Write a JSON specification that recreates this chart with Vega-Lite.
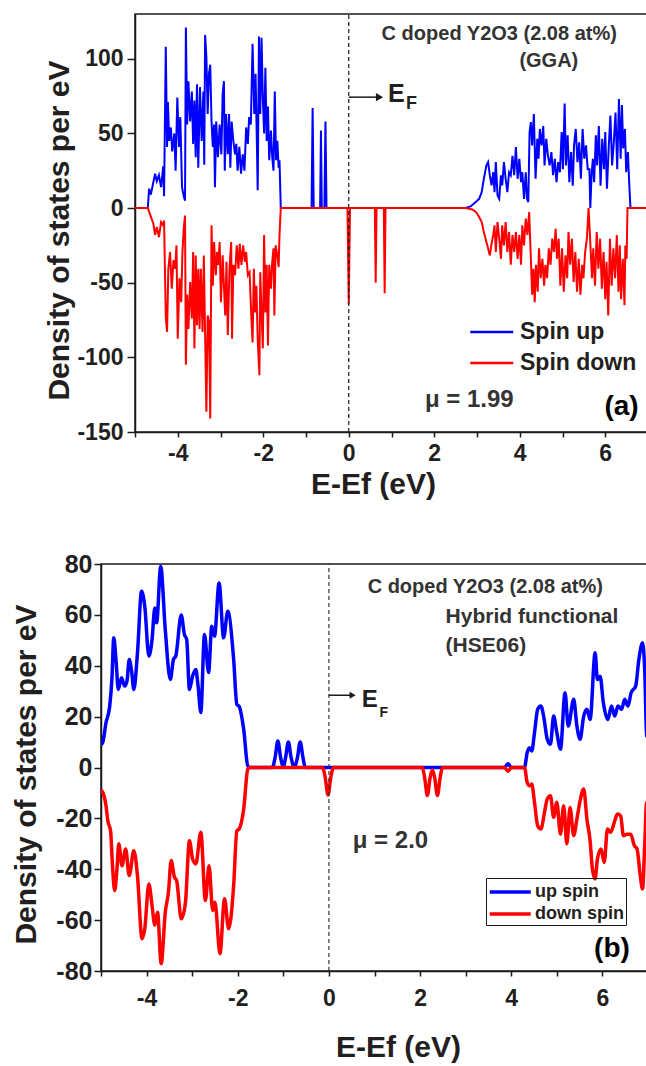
{
"$schema": "https://vega.github.io/schema/vega-lite/v6.json",
"autosize": {"type": "pad"},
"padding": {"left": 10, "top": 12, "right": 0, "bottom": 0},
"background": "white",
"config": {
  "font": "Liberation Sans",
  "view": {"stroke": null},
  "axis": {"domainColor": "#1a1a1a", "domainWidth": 1.5, "tickColor": "#1a1a1a", "tickWidth": 1.5, "labelColor": "#231f20", "labelFont": "Liberation Sans", "labelFontWeight": "bold", "titleFont": "Liberation Sans", "titleFontWeight": "bold", "titleColor": "#231f20", "titleFontSize": 30, "grid": false},
  "legend": {"labelFont": "Liberation Sans", "labelFontWeight": "bold", "labelColor": "#231f20"},
  "text": {"font": "Liberation Sans", "fontWeight": "bold", "color": "#333333"}
},
"datasets": {
"gga": [
{"E":-5,"D":0,"s":"Spin up"},{"E":-4.7,"D":0,"s":"Spin up"},{"E":-4.67,"D":13,"s":"Spin up"},{"E":-4.63,"D":9,"s":"Spin up"},{"E":-4.53,"D":23,"s":"Spin up"},{"E":-4.49,"D":18,"s":"Spin up"},{"E":-4.44,"D":22,"s":"Spin up"},{"E":-4.39,"D":14,"s":"Spin up"},{"E":-4.34,"D":28,"s":"Spin up"},{"E":-4.32,"D":8,"s":"Spin up"},{"E":-4.28,"D":108,"s":"Spin up"},{"E":-4.25,"D":41,"s":"Spin up"},{"E":-4.23,"D":71,"s":"Spin up"},{"E":-4.2,"D":45,"s":"Spin up"},{"E":-4.16,"D":54,"s":"Spin up"},{"E":-4.13,"D":38,"s":"Spin up"},{"E":-4.08,"D":50,"s":"Spin up"},{"E":-4.05,"D":25,"s":"Spin up"},{"E":-4.01,"D":74,"s":"Spin up"},{"E":-3.97,"D":41,"s":"Spin up"},{"E":-3.94,"D":61,"s":"Spin up"},{"E":-3.9,"D":14,"s":"Spin up"},{"E":-3.86,"D":8,"s":"Spin up"},{"E":-3.83,"D":5,"s":"Spin up"},{"E":-3.81,"D":121,"s":"Spin up"},{"E":-3.78,"D":56,"s":"Spin up"},{"E":-3.75,"D":85,"s":"Spin up"},{"E":-3.71,"D":58,"s":"Spin up"},{"E":-3.67,"D":78,"s":"Spin up"},{"E":-3.64,"D":43,"s":"Spin up"},{"E":-3.61,"D":72,"s":"Spin up"},{"E":-3.58,"D":34,"s":"Spin up"},{"E":-3.55,"D":83,"s":"Spin up"},{"E":-3.52,"D":27,"s":"Spin up"},{"E":-3.48,"D":81,"s":"Spin up"},{"E":-3.44,"D":45,"s":"Spin up"},{"E":-3.4,"D":78,"s":"Spin up"},{"E":-3.38,"D":29,"s":"Spin up"},{"E":-3.36,"D":116,"s":"Spin up"},{"E":-3.33,"D":101,"s":"Spin up"},{"E":-3.3,"D":63,"s":"Spin up"},{"E":-3.27,"D":90,"s":"Spin up"},{"E":-3.24,"D":96,"s":"Spin up"},{"E":-3.21,"D":58,"s":"Spin up"},{"E":-3.18,"D":41,"s":"Spin up"},{"E":-3.15,"D":56,"s":"Spin up"},{"E":-3.13,"D":14,"s":"Spin up"},{"E":-3.1,"D":58,"s":"Spin up"},{"E":-3.06,"D":34,"s":"Spin up"},{"E":-3.02,"D":56,"s":"Spin up"},{"E":-2.98,"D":36,"s":"Spin up"},{"E":-2.95,"D":76,"s":"Spin up"},{"E":-2.92,"D":85,"s":"Spin up"},{"E":-2.9,"D":25,"s":"Spin up"},{"E":-2.87,"D":63,"s":"Spin up"},{"E":-2.83,"D":36,"s":"Spin up"},{"E":-2.8,"D":63,"s":"Spin up"},{"E":-2.77,"D":27,"s":"Spin up"},{"E":-2.74,"D":58,"s":"Spin up"},{"E":-2.7,"D":45,"s":"Spin up"},{"E":-2.66,"D":36,"s":"Spin up"},{"E":-2.63,"D":43,"s":"Spin up"},{"E":-2.6,"D":25,"s":"Spin up"},{"E":-2.56,"D":41,"s":"Spin up"},{"E":-2.52,"D":23,"s":"Spin up"},{"E":-2.48,"D":36,"s":"Spin up"},{"E":-2.44,"D":25,"s":"Spin up"},{"E":-2.4,"D":54,"s":"Spin up"},{"E":-2.36,"D":43,"s":"Spin up"},{"E":-2.33,"D":61,"s":"Spin up"},{"E":-2.29,"D":56,"s":"Spin up"},{"E":-2.25,"D":110,"s":"Spin up"},{"E":-2.21,"D":63,"s":"Spin up"},{"E":-2.18,"D":90,"s":"Spin up"},{"E":-2.15,"D":45,"s":"Spin up"},{"E":-2.13,"D":12,"s":"Spin up"},{"E":-2.1,"D":115,"s":"Spin up"},{"E":-2.07,"D":63,"s":"Spin up"},{"E":-2.04,"D":114,"s":"Spin up"},{"E":-2.01,"D":74,"s":"Spin up"},{"E":-1.98,"D":50,"s":"Spin up"},{"E":-1.95,"D":94,"s":"Spin up"},{"E":-1.92,"D":45,"s":"Spin up"},{"E":-1.89,"D":68,"s":"Spin up"},{"E":-1.86,"D":32,"s":"Spin up"},{"E":-1.82,"D":52,"s":"Spin up"},{"E":-1.79,"D":34,"s":"Spin up"},{"E":-1.76,"D":25,"s":"Spin up"},{"E":-1.73,"D":78,"s":"Spin up"},{"E":-1.7,"D":32,"s":"Spin up"},{"E":-1.67,"D":45,"s":"Spin up"},{"E":-1.64,"D":27,"s":"Spin up"},{"E":-1.62,"D":32,"s":"Spin up"},{"E":-1.59,"D":0,"s":"Spin up"},{"E":-0.87,"D":0,"s":"Spin up"},{"E":-0.845,"D":67,"s":"Spin up"},{"E":-0.82,"D":0,"s":"Spin up"},{"E":-0.67,"D":0,"s":"Spin up"},{"E":-0.65,"D":52,"s":"Spin up"},{"E":-0.63,"D":0,"s":"Spin up"},{"E":-0.57,"D":0,"s":"Spin up"},{"E":-0.545,"D":58,"s":"Spin up"},{"E":-0.52,"D":0,"s":"Spin up"},{"E":2.73,"D":0,"s":"Spin up"},{"E":2.85,"D":1.1,"s":"Spin up"},{"E":2.97,"D":4,"s":"Spin up"},{"E":3.05,"D":6.2,"s":"Spin up"},{"E":3.11,"D":10.7,"s":"Spin up"},{"E":3.16,"D":19.6,"s":"Spin up"},{"E":3.22,"D":28.6,"s":"Spin up"},{"E":3.26,"D":30.8,"s":"Spin up"},{"E":3.3,"D":21.9,"s":"Spin up"},{"E":3.34,"D":15.2,"s":"Spin up"},{"E":3.38,"D":24,"s":"Spin up"},{"E":3.41,"D":10.7,"s":"Spin up"},{"E":3.44,"D":30.8,"s":"Spin up"},{"E":3.48,"D":8.5,"s":"Spin up"},{"E":3.52,"D":6.2,"s":"Spin up"},{"E":3.56,"D":21.9,"s":"Spin up"},{"E":3.59,"D":15.2,"s":"Spin up"},{"E":3.63,"D":30.8,"s":"Spin up"},{"E":3.67,"D":19.6,"s":"Spin up"},{"E":3.71,"D":10.7,"s":"Spin up"},{"E":3.75,"D":24,"s":"Spin up"},{"E":3.79,"D":22,"s":"Spin up"},{"E":3.83,"D":35,"s":"Spin up"},{"E":3.87,"D":22,"s":"Spin up"},{"E":3.91,"D":40.8,"s":"Spin up"},{"E":3.95,"D":19.6,"s":"Spin up"},{"E":3.99,"D":33,"s":"Spin up"},{"E":4.03,"D":17.4,"s":"Spin up"},{"E":4.06,"D":24,"s":"Spin up"},{"E":4.1,"D":6.2,"s":"Spin up"},{"E":4.14,"D":24,"s":"Spin up"},{"E":4.17,"D":6.2,"s":"Spin up"},{"E":4.2,"D":4,"s":"Spin up"},{"E":4.23,"D":50.9,"s":"Spin up"},{"E":4.26,"D":57.6,"s":"Spin up"},{"E":4.29,"D":42,"s":"Spin up"},{"E":4.33,"D":63,"s":"Spin up"},{"E":4.37,"D":19.6,"s":"Spin up"},{"E":4.41,"D":46.4,"s":"Spin up"},{"E":4.44,"D":33,"s":"Spin up"},{"E":4.47,"D":53,"s":"Spin up"},{"E":4.51,"D":42,"s":"Spin up"},{"E":4.55,"D":55,"s":"Spin up"},{"E":4.58,"D":28.6,"s":"Spin up"},{"E":4.62,"D":46.4,"s":"Spin up"},{"E":4.66,"D":35,"s":"Spin up"},{"E":4.7,"D":28.6,"s":"Spin up"},{"E":4.74,"D":37.5,"s":"Spin up"},{"E":4.78,"D":22,"s":"Spin up"},{"E":4.82,"D":33,"s":"Spin up"},{"E":4.86,"D":17.4,"s":"Spin up"},{"E":4.9,"D":30.8,"s":"Spin up"},{"E":4.94,"D":24,"s":"Spin up"},{"E":4.98,"D":51,"s":"Spin up"},{"E":5.01,"D":26,"s":"Spin up"},{"E":5.05,"D":70,"s":"Spin up"},{"E":5.08,"D":28.6,"s":"Spin up"},{"E":5.12,"D":48.7,"s":"Spin up"},{"E":5.16,"D":17.4,"s":"Spin up"},{"E":5.2,"D":37.5,"s":"Spin up"},{"E":5.24,"D":15,"s":"Spin up"},{"E":5.27,"D":42,"s":"Spin up"},{"E":5.31,"D":53,"s":"Spin up"},{"E":5.35,"D":30.8,"s":"Spin up"},{"E":5.39,"D":44,"s":"Spin up"},{"E":5.43,"D":19.6,"s":"Spin up"},{"E":5.47,"D":53,"s":"Spin up"},{"E":5.51,"D":33,"s":"Spin up"},{"E":5.55,"D":42,"s":"Spin up"},{"E":5.59,"D":26,"s":"Spin up"},{"E":5.63,"D":26,"s":"Spin up"},{"E":5.65,"D":0,"s":"Spin up"},{"E":5.68,"D":22,"s":"Spin up"},{"E":5.71,"D":33,"s":"Spin up"},{"E":5.74,"D":17.4,"s":"Spin up"},{"E":5.78,"D":48.7,"s":"Spin up"},{"E":5.81,"D":28.6,"s":"Spin up"},{"E":5.85,"D":55,"s":"Spin up"},{"E":5.89,"D":15,"s":"Spin up"},{"E":5.93,"D":46.4,"s":"Spin up"},{"E":5.97,"D":26,"s":"Spin up"},{"E":6,"D":51,"s":"Spin up"},{"E":6.04,"D":13,"s":"Spin up"},{"E":6.08,"D":40,"s":"Spin up"},{"E":6.12,"D":62,"s":"Spin up"},{"E":6.16,"D":28.6,"s":"Spin up"},{"E":6.2,"D":44,"s":"Spin up"},{"E":6.24,"D":64,"s":"Spin up"},{"E":6.28,"D":26,"s":"Spin up"},{"E":6.32,"D":73,"s":"Spin up"},{"E":6.36,"D":33,"s":"Spin up"},{"E":6.39,"D":69,"s":"Spin up"},{"E":6.42,"D":40,"s":"Spin up"},{"E":6.46,"D":53,"s":"Spin up"},{"E":6.49,"D":24,"s":"Spin up"},{"E":6.53,"D":37.5,"s":"Spin up"},{"E":6.56,"D":17,"s":"Spin up"},{"E":6.59,"D":0,"s":"Spin up"},{"E":7,"D":0,"s":"Spin up"},
{"E":-5,"D":0,"s":"Spin down"},{"E":-4.7,"D":0,"s":"Spin down"},{"E":-4.57,"D":-10.5,"s":"Spin down"},{"E":-4.53,"D":-18,"s":"Spin down"},{"E":-4.49,"D":-12.7,"s":"Spin down"},{"E":-4.44,"D":-19.4,"s":"Spin down"},{"E":-4.39,"D":-9.4,"s":"Spin down"},{"E":-4.34,"D":-11.6,"s":"Spin down"},{"E":-4.32,"D":-8.3,"s":"Spin down"},{"E":-4.28,"D":-73,"s":"Spin down"},{"E":-4.25,"D":-83,"s":"Spin down"},{"E":-4.22,"D":-40.6,"s":"Spin down"},{"E":-4.18,"D":-29.4,"s":"Spin down"},{"E":-4.14,"D":-54,"s":"Spin down"},{"E":-4.1,"D":-35,"s":"Spin down"},{"E":-4.06,"D":-40.6,"s":"Spin down"},{"E":-4.03,"D":-25,"s":"Spin down"},{"E":-4,"D":-87.5,"s":"Spin down"},{"E":-3.96,"D":-47,"s":"Spin down"},{"E":-3.92,"D":-63,"s":"Spin down"},{"E":-3.89,"D":-29.4,"s":"Spin down"},{"E":-3.86,"D":-13.8,"s":"Spin down"},{"E":-3.83,"D":-5,"s":"Spin down"},{"E":-3.81,"D":-105,"s":"Spin down"},{"E":-3.78,"D":-58,"s":"Spin down"},{"E":-3.75,"D":-81,"s":"Spin down"},{"E":-3.71,"D":-49.5,"s":"Spin down"},{"E":-3.67,"D":-74,"s":"Spin down"},{"E":-3.64,"D":-29.4,"s":"Spin down"},{"E":-3.61,"D":-94,"s":"Spin down"},{"E":-3.58,"D":-31.7,"s":"Spin down"},{"E":-3.55,"D":-78.5,"s":"Spin down"},{"E":-3.52,"D":-40.6,"s":"Spin down"},{"E":-3.49,"D":-81,"s":"Spin down"},{"E":-3.46,"D":-40.6,"s":"Spin down"},{"E":-3.42,"D":-83,"s":"Spin down"},{"E":-3.39,"D":-31.7,"s":"Spin down"},{"E":-3.36,"D":-85,"s":"Spin down"},{"E":-3.33,"D":-136.5,"s":"Spin down"},{"E":-3.3,"D":-72,"s":"Spin down"},{"E":-3.27,"D":-76,"s":"Spin down"},{"E":-3.24,"D":-141,"s":"Spin down"},{"E":-3.21,"D":-11.6,"s":"Spin down"},{"E":-3.18,"D":-52,"s":"Spin down"},{"E":-3.15,"D":-22.8,"s":"Spin down"},{"E":-3.11,"D":-45,"s":"Spin down"},{"E":-3.08,"D":-29.4,"s":"Spin down"},{"E":-3.05,"D":-38,"s":"Spin down"},{"E":-3.02,"D":-22.8,"s":"Spin down"},{"E":-2.99,"D":-63,"s":"Spin down"},{"E":-2.95,"D":-31.7,"s":"Spin down"},{"E":-2.92,"D":-52,"s":"Spin down"},{"E":-2.89,"D":-72,"s":"Spin down"},{"E":-2.86,"D":-36,"s":"Spin down"},{"E":-2.83,"D":-85,"s":"Spin down"},{"E":-2.79,"D":-40.6,"s":"Spin down"},{"E":-2.75,"D":-22.8,"s":"Spin down"},{"E":-2.73,"D":-87.5,"s":"Spin down"},{"E":-2.7,"D":-38,"s":"Spin down"},{"E":-2.66,"D":-45,"s":"Spin down"},{"E":-2.62,"D":-25,"s":"Spin down"},{"E":-2.58,"D":-40.6,"s":"Spin down"},{"E":-2.55,"D":-24,"s":"Spin down"},{"E":-2.51,"D":-38,"s":"Spin down"},{"E":-2.47,"D":-25,"s":"Spin down"},{"E":-2.43,"D":-36,"s":"Spin down"},{"E":-2.4,"D":-29.4,"s":"Spin down"},{"E":-2.36,"D":-45,"s":"Spin down"},{"E":-2.32,"D":-43,"s":"Spin down"},{"E":-2.28,"D":-72,"s":"Spin down"},{"E":-2.25,"D":-90,"s":"Spin down"},{"E":-2.22,"D":-40.6,"s":"Spin down"},{"E":-2.19,"D":-70,"s":"Spin down"},{"E":-2.16,"D":-52,"s":"Spin down"},{"E":-2.13,"D":-87.5,"s":"Spin down"},{"E":-2.09,"D":-112,"s":"Spin down"},{"E":-2.07,"D":-43,"s":"Spin down"},{"E":-2.04,"D":-70,"s":"Spin down"},{"E":-2.01,"D":-94,"s":"Spin down"},{"E":-1.98,"D":-18,"s":"Spin down"},{"E":-1.95,"D":-70,"s":"Spin down"},{"E":-1.92,"D":-38,"s":"Spin down"},{"E":-1.89,"D":-92,"s":"Spin down"},{"E":-1.86,"D":-38,"s":"Spin down"},{"E":-1.82,"D":-54,"s":"Spin down"},{"E":-1.79,"D":-36,"s":"Spin down"},{"E":-1.76,"D":-27,"s":"Spin down"},{"E":-1.74,"D":-72,"s":"Spin down"},{"E":-1.71,"D":-25,"s":"Spin down"},{"E":-1.67,"D":-31.7,"s":"Spin down"},{"E":-1.64,"D":-39.5,"s":"Spin down"},{"E":-1.62,"D":-18,"s":"Spin down"},{"E":-1.59,"D":0,"s":"Spin down"},{"E":-0.03,"D":0,"s":"Spin down"},{"E":0,"D":-64,"s":"Spin down"},{"E":0.03,"D":0,"s":"Spin down"},{"E":0.61,"D":0,"s":"Spin down"},{"E":0.63,"D":-50,"s":"Spin down"},{"E":0.65,"D":0,"s":"Spin down"},{"E":0.82,"D":0,"s":"Spin down"},{"E":0.84,"D":-57,"s":"Spin down"},{"E":0.86,"D":0,"s":"Spin down"},{"E":2.73,"D":0,"s":"Spin down"},{"E":2.89,"D":-0.9,"s":"Spin down"},{"E":2.98,"D":-2.7,"s":"Spin down"},{"E":3.05,"D":-6,"s":"Spin down"},{"E":3.11,"D":-9.4,"s":"Spin down"},{"E":3.16,"D":-16,"s":"Spin down"},{"E":3.22,"D":-22.8,"s":"Spin down"},{"E":3.26,"D":-27,"s":"Spin down"},{"E":3.3,"D":-31.7,"s":"Spin down"},{"E":3.34,"D":-24,"s":"Spin down"},{"E":3.38,"D":-18,"s":"Spin down"},{"E":3.41,"D":-11.6,"s":"Spin down"},{"E":3.44,"D":-29.4,"s":"Spin down"},{"E":3.48,"D":-9.4,"s":"Spin down"},{"E":3.52,"D":-20.5,"s":"Spin down"},{"E":3.56,"D":-34,"s":"Spin down"},{"E":3.59,"D":-11.6,"s":"Spin down"},{"E":3.63,"D":-25,"s":"Spin down"},{"E":3.67,"D":-9.4,"s":"Spin down"},{"E":3.71,"D":-29.4,"s":"Spin down"},{"E":3.75,"D":-16,"s":"Spin down"},{"E":3.79,"D":-38,"s":"Spin down"},{"E":3.83,"D":-18,"s":"Spin down"},{"E":3.87,"D":-29.4,"s":"Spin down"},{"E":3.91,"D":-16,"s":"Spin down"},{"E":3.95,"D":-34,"s":"Spin down"},{"E":3.99,"D":-18,"s":"Spin down"},{"E":4.03,"D":-38,"s":"Spin down"},{"E":4.06,"D":-11.6,"s":"Spin down"},{"E":4.1,"D":-25,"s":"Spin down"},{"E":4.14,"D":-7,"s":"Spin down"},{"E":4.18,"D":-18,"s":"Spin down"},{"E":4.22,"D":-2.7,"s":"Spin down"},{"E":4.26,"D":-34,"s":"Spin down"},{"E":4.29,"D":-58,"s":"Spin down"},{"E":4.32,"D":-40.6,"s":"Spin down"},{"E":4.35,"D":-63,"s":"Spin down"},{"E":4.38,"D":-38,"s":"Spin down"},{"E":4.42,"D":-56,"s":"Spin down"},{"E":4.45,"D":-27,"s":"Spin down"},{"E":4.49,"D":-47,"s":"Spin down"},{"E":4.53,"D":-34,"s":"Spin down"},{"E":4.57,"D":-52,"s":"Spin down"},{"E":4.6,"D":-38,"s":"Spin down"},{"E":4.64,"D":-47,"s":"Spin down"},{"E":4.68,"D":-27,"s":"Spin down"},{"E":4.72,"D":-38,"s":"Spin down"},{"E":4.76,"D":-20.5,"s":"Spin down"},{"E":4.8,"D":-29.4,"s":"Spin down"},{"E":4.84,"D":-13.8,"s":"Spin down"},{"E":4.87,"D":-34,"s":"Spin down"},{"E":4.91,"D":-20.5,"s":"Spin down"},{"E":4.95,"D":-52,"s":"Spin down"},{"E":4.99,"D":-27,"s":"Spin down"},{"E":5.03,"D":-56,"s":"Spin down"},{"E":5.07,"D":-31.7,"s":"Spin down"},{"E":5.11,"D":-47,"s":"Spin down"},{"E":5.14,"D":-16,"s":"Spin down"},{"E":5.18,"D":-38,"s":"Spin down"},{"E":5.22,"D":-20.5,"s":"Spin down"},{"E":5.26,"D":-49.5,"s":"Spin down"},{"E":5.3,"D":-29.4,"s":"Spin down"},{"E":5.34,"D":-56,"s":"Spin down"},{"E":5.38,"D":-34,"s":"Spin down"},{"E":5.42,"D":-58,"s":"Spin down"},{"E":5.46,"D":-38,"s":"Spin down"},{"E":5.49,"D":-47,"s":"Spin down"},{"E":5.53,"D":-29.4,"s":"Spin down"},{"E":5.57,"D":-20.5,"s":"Spin down"},{"E":5.61,"D":0,"s":"Spin down"},{"E":5.65,"D":-22.8,"s":"Spin down"},{"E":5.69,"D":-47,"s":"Spin down"},{"E":5.72,"D":-27,"s":"Spin down"},{"E":5.76,"D":-52,"s":"Spin down"},{"E":5.8,"D":-16,"s":"Spin down"},{"E":5.84,"D":-40.6,"s":"Spin down"},{"E":5.88,"D":-20.5,"s":"Spin down"},{"E":5.92,"D":-54,"s":"Spin down"},{"E":5.96,"D":-29.4,"s":"Spin down"},{"E":6,"D":-61,"s":"Spin down"},{"E":6.03,"D":-36,"s":"Spin down"},{"E":6.07,"D":-72,"s":"Spin down"},{"E":6.11,"D":-20.5,"s":"Spin down"},{"E":6.15,"D":-52,"s":"Spin down"},{"E":6.19,"D":-27,"s":"Spin down"},{"E":6.23,"D":-47,"s":"Spin down"},{"E":6.27,"D":-18,"s":"Spin down"},{"E":6.31,"D":-56,"s":"Spin down"},{"E":6.34,"D":-25,"s":"Spin down"},{"E":6.37,"D":-61,"s":"Spin down"},{"E":6.41,"D":-34,"s":"Spin down"},{"E":6.45,"D":-65,"s":"Spin down"},{"E":6.47,"D":-25,"s":"Spin down"},{"E":6.5,"D":-34,"s":"Spin down"},{"E":6.52,"D":0,"s":"Spin down"},{"E":7,"D":0,"s":"Spin down"}
],
"hse": [
{"E":-5,"D":9,"s":"up spin"},{"E":-4.96,"D":10,"s":"up spin"},{"E":-4.89,"D":17.6,"s":"up spin"},{"E":-4.81,"D":24,"s":"up spin"},{"E":-4.76,"D":35,"s":"up spin"},{"E":-4.72,"D":51,"s":"up spin"},{"E":-4.67,"D":42,"s":"up spin"},{"E":-4.62,"D":30.7,"s":"up spin"},{"E":-4.55,"D":35.3,"s":"up spin"},{"E":-4.48,"D":32,"s":"up spin"},{"E":-4.43,"D":34,"s":"up spin"},{"E":-4.38,"D":42.5,"s":"up spin"},{"E":-4.33,"D":38,"s":"up spin"},{"E":-4.28,"D":30.7,"s":"up spin"},{"E":-4.2,"D":45,"s":"up spin"},{"E":-4.11,"D":69.3,"s":"up spin"},{"E":-4.04,"D":63.4,"s":"up spin"},{"E":-3.95,"D":43.8,"s":"up spin"},{"E":-3.88,"D":50.3,"s":"up spin"},{"E":-3.82,"D":62.7,"s":"up spin"},{"E":-3.78,"D":56.9,"s":"up spin"},{"E":-3.69,"D":79,"s":"up spin"},{"E":-3.59,"D":54.2,"s":"up spin"},{"E":-3.48,"D":34.6,"s":"up spin"},{"E":-3.41,"D":42.5,"s":"up spin"},{"E":-3.36,"D":43.8,"s":"up spin"},{"E":-3.24,"D":60,"s":"up spin"},{"E":-3.17,"D":52.3,"s":"up spin"},{"E":-3.12,"D":50.3,"s":"up spin"},{"E":-3.06,"D":30.7,"s":"up spin"},{"E":-2.99,"D":36,"s":"up spin"},{"E":-2.92,"D":38.5,"s":"up spin"},{"E":-2.87,"D":32,"s":"up spin"},{"E":-2.81,"D":21.6,"s":"up spin"},{"E":-2.73,"D":52.3,"s":"up spin"},{"E":-2.64,"D":37.3,"s":"up spin"},{"E":-2.57,"D":55.5,"s":"up spin"},{"E":-2.51,"D":51.6,"s":"up spin"},{"E":-2.41,"D":72.5,"s":"up spin"},{"E":-2.31,"D":51,"s":"up spin"},{"E":-2.22,"D":61.4,"s":"up spin"},{"E":-2.09,"D":42.5,"s":"up spin"},{"E":-2.02,"D":24.8,"s":"up spin"},{"E":-1.97,"D":24,"s":"up spin"},{"E":-1.87,"D":15,"s":"up spin"},{"E":-1.78,"D":0.6,"s":"up spin"},{"E":-1.73,"D":0,"s":"up spin"},{"E":-1.24,"D":0,"s":"up spin"},{"E":-1.18,"D":4,"s":"up spin"},{"E":-1.12,"D":10.4,"s":"up spin"},{"E":-1.06,"D":4,"s":"up spin"},{"E":-1.0,"D":0,"s":"up spin"},{"E":-0.95,"D":4,"s":"up spin"},{"E":-0.89,"D":10,"s":"up spin"},{"E":-0.83,"D":4,"s":"up spin"},{"E":-0.76,"D":0,"s":"up spin"},{"E":-0.69,"D":4,"s":"up spin"},{"E":-0.63,"D":10,"s":"up spin"},{"E":-0.57,"D":4,"s":"up spin"},{"E":-0.52,"D":0,"s":"up spin"},{"E":3.85,"D":0,"s":"up spin"},{"E":3.93,"D":1.5,"s":"up spin"},{"E":4.0,"D":0,"s":"up spin"},{"E":4.29,"D":0,"s":"up spin"},{"E":4.35,"D":5.9,"s":"up spin"},{"E":4.4,"D":7.8,"s":"up spin"},{"E":4.45,"D":6.5,"s":"up spin"},{"E":4.51,"D":13.7,"s":"up spin"},{"E":4.58,"D":22.9,"s":"up spin"},{"E":4.65,"D":24.2,"s":"up spin"},{"E":4.71,"D":20.2,"s":"up spin"},{"E":4.79,"D":11.1,"s":"up spin"},{"E":4.86,"D":9.1,"s":"up spin"},{"E":4.93,"D":20.2,"s":"up spin"},{"E":5.0,"D":13.7,"s":"up spin"},{"E":5.08,"D":7.2,"s":"up spin"},{"E":5.18,"D":29.4,"s":"up spin"},{"E":5.25,"D":16.3,"s":"up spin"},{"E":5.37,"D":26.8,"s":"up spin"},{"E":5.44,"D":16.3,"s":"up spin"},{"E":5.51,"D":11.1,"s":"up spin"},{"E":5.59,"D":20.2,"s":"up spin"},{"E":5.66,"D":22.9,"s":"up spin"},{"E":5.73,"D":18.9,"s":"up spin"},{"E":5.84,"D":45.1,"s":"up spin"},{"E":5.89,"D":34.6,"s":"up spin"},{"E":5.95,"D":35.9,"s":"up spin"},{"E":6.02,"D":25.5,"s":"up spin"},{"E":6.12,"D":18.9,"s":"up spin"},{"E":6.2,"D":24.2,"s":"up spin"},{"E":6.27,"D":20.2,"s":"up spin"},{"E":6.34,"D":24.2,"s":"up spin"},{"E":6.42,"D":22.9,"s":"up spin"},{"E":6.49,"D":26.8,"s":"up spin"},{"E":6.56,"D":24.2,"s":"up spin"},{"E":6.63,"D":29.4,"s":"up spin"},{"E":6.73,"D":32,"s":"up spin"},{"E":6.8,"D":42.5,"s":"up spin"},{"E":6.88,"D":49,"s":"up spin"},{"E":6.93,"D":37.3,"s":"up spin"},{"E":6.97,"D":12.4,"s":"up spin"},{"E":7,"D":12,"s":"up spin"},
{"E":-5,"D":-9,"s":"down spin"},{"E":-4.96,"D":-9.8,"s":"down spin"},{"E":-4.89,"D":-15,"s":"down spin"},{"E":-4.85,"D":-21,"s":"down spin"},{"E":-4.79,"D":-24.9,"s":"down spin"},{"E":-4.75,"D":-38,"s":"down spin"},{"E":-4.7,"D":-48.4,"s":"down spin"},{"E":-4.65,"D":-40,"s":"down spin"},{"E":-4.61,"D":-30,"s":"down spin"},{"E":-4.54,"D":-38.6,"s":"down spin"},{"E":-4.46,"D":-32,"s":"down spin"},{"E":-4.38,"D":-42.5,"s":"down spin"},{"E":-4.28,"D":-32.7,"s":"down spin"},{"E":-4.2,"D":-42.5,"s":"down spin"},{"E":-4.1,"D":-67.3,"s":"down spin"},{"E":-4.04,"D":-63.4,"s":"down spin"},{"E":-3.95,"D":-45.8,"s":"down spin"},{"E":-3.88,"D":-54.3,"s":"down spin"},{"E":-3.82,"D":-62,"s":"down spin"},{"E":-3.76,"D":-56.9,"s":"down spin"},{"E":-3.68,"D":-77.1,"s":"down spin"},{"E":-3.59,"D":-56.9,"s":"down spin"},{"E":-3.52,"D":-49,"s":"down spin"},{"E":-3.46,"D":-36.6,"s":"down spin"},{"E":-3.39,"D":-43,"s":"down spin"},{"E":-3.34,"D":-44.5,"s":"down spin"},{"E":-3.24,"D":-59.5,"s":"down spin"},{"E":-3.15,"D":-53.6,"s":"down spin"},{"E":-3.06,"D":-28.8,"s":"down spin"},{"E":-2.99,"D":-36,"s":"down spin"},{"E":-2.92,"D":-37.9,"s":"down spin"},{"E":-2.81,"D":-25.5,"s":"down spin"},{"E":-2.71,"D":-52.3,"s":"down spin"},{"E":-2.63,"D":-38.6,"s":"down spin"},{"E":-2.55,"D":-56.2,"s":"down spin"},{"E":-2.5,"D":-53,"s":"down spin"},{"E":-2.39,"D":-73.2,"s":"down spin"},{"E":-2.29,"D":-51.6,"s":"down spin"},{"E":-2.2,"D":-63.4,"s":"down spin"},{"E":-2.09,"D":-46.4,"s":"down spin"},{"E":-2.02,"D":-24.9,"s":"down spin"},{"E":-1.97,"D":-24.2,"s":"down spin"},{"E":-1.87,"D":-16.4,"s":"down spin"},{"E":-1.78,"D":-0.7,"s":"down spin"},{"E":-1.73,"D":0,"s":"down spin"},{"E":-0.14,"D":0,"s":"down spin"},{"E":-0.08,"D":-4,"s":"down spin"},{"E":-0.02,"D":-10.8,"s":"down spin"},{"E":0.04,"D":-4,"s":"down spin"},{"E":0.1,"D":0,"s":"down spin"},{"E":2.05,"D":0,"s":"down spin"},{"E":2.1,"D":-4,"s":"down spin"},{"E":2.16,"D":-11,"s":"down spin"},{"E":2.22,"D":-4,"s":"down spin"},{"E":2.27,"D":-1,"s":"down spin"},{"E":2.32,"D":-4,"s":"down spin"},{"E":2.38,"D":-11,"s":"down spin"},{"E":2.44,"D":-4,"s":"down spin"},{"E":2.49,"D":0,"s":"down spin"},{"E":3.85,"D":0,"s":"down spin"},{"E":3.93,"D":-1.5,"s":"down spin"},{"E":4.0,"D":0,"s":"down spin"},{"E":4.29,"D":0,"s":"down spin"},{"E":4.35,"D":-5.9,"s":"down spin"},{"E":4.4,"D":-7.2,"s":"down spin"},{"E":4.45,"D":-6.5,"s":"down spin"},{"E":4.51,"D":-13.7,"s":"down spin"},{"E":4.58,"D":-22.9,"s":"down spin"},{"E":4.65,"D":-24.2,"s":"down spin"},{"E":4.73,"D":-17.6,"s":"down spin"},{"E":4.79,"D":-12.4,"s":"down spin"},{"E":4.86,"D":-11.1,"s":"down spin"},{"E":4.93,"D":-19.6,"s":"down spin"},{"E":5.0,"D":-13.7,"s":"down spin"},{"E":5.08,"D":-26.2,"s":"down spin"},{"E":5.15,"D":-15,"s":"down spin"},{"E":5.22,"D":-30,"s":"down spin"},{"E":5.29,"D":-15.7,"s":"down spin"},{"E":5.37,"D":-26.8,"s":"down spin"},{"E":5.44,"D":-20.3,"s":"down spin"},{"E":5.51,"D":-13.1,"s":"down spin"},{"E":5.59,"D":-8.5,"s":"down spin"},{"E":5.66,"D":-20.3,"s":"down spin"},{"E":5.73,"D":-28.8,"s":"down spin"},{"E":5.78,"D":-39.9,"s":"down spin"},{"E":5.84,"D":-43.8,"s":"down spin"},{"E":5.89,"D":-36,"s":"down spin"},{"E":5.97,"D":-32,"s":"down spin"},{"E":6.04,"D":-37.3,"s":"down spin"},{"E":6.11,"D":-24.2,"s":"down spin"},{"E":6.18,"D":-25.5,"s":"down spin"},{"E":6.26,"D":-21.6,"s":"down spin"},{"E":6.33,"D":-18.3,"s":"down spin"},{"E":6.4,"D":-19,"s":"down spin"},{"E":6.46,"D":-26.8,"s":"down spin"},{"E":6.54,"D":-26.2,"s":"down spin"},{"E":6.62,"D":-26.2,"s":"down spin"},{"E":6.7,"D":-30.7,"s":"down spin"},{"E":6.76,"D":-32,"s":"down spin"},{"E":6.83,"D":-42.5,"s":"down spin"},{"E":6.88,"D":-47.7,"s":"down spin"},{"E":6.93,"D":-29.4,"s":"down spin"},{"E":6.97,"D":-13.7,"s":"down spin"},{"E":7,"D":-15,"s":"down spin"}
]
},
"spacing": 51,
"resolve": {"scale": {"x": "independent", "y": "independent", "color": "independent"}},
"vconcat": [
{
 "hconcat": [
  {"width": 34, "height": 10, "data": {"values": [{"E": 0}]}, "mark": {"type": "point", "opacity": 0}, "encoding": {}},
  {
   "width": 513, "height": 418,
   "view": {"stroke": "#1a1a1a", "strokeWidth": 1.5},
   "layer": [
    {
     "data": {"name": "gga"},
     "encoding": {
       "x": {"field": "E", "type": "quantitative", "scale": {"domain": [-5, 7], "nice": false, "zero": false},
         "axis": {"title": "E-Ef (eV)", "values": [-5,-4,-3,-2,-1,0,1,2,3,4,5,6,7], "labelExpr": "datum.value % 2 === 0 ? '' + datum.value : ''", "tickSize": 5, "labelFontSize": 23, "labelPadding": 5, "titleX": 238, "titleY": 52, "titleBaseline": "middle"}},
       "y": {"field": "D", "type": "quantitative", "scale": {"domain": [-150, 130], "nice": false, "zero": false},
         "axis": {"title": "Density of states per eV", "values": [-150,-125,-100,-75,-50,-25,0,25,50,75,100,125], "labelExpr": "datum.value % 50 === 0 ? '' + datum.value : ''", "tickSize": {"condition": {"test": "datum.value % 50 === 0", "value": 8}, "value": 4}, "labelFontSize": 23, "labelPadding": 4, "titleX": -76, "titleY": 216, "titleBaseline": "middle"}}
     },
     "layer": [
      {"transform": [{"filter": "datum.s === 'Spin up'"}], "mark": {"type": "line", "strokeWidth": 2, "clip": true},
       "encoding": {"color": {"field": "s", "type": "nominal", "scale": {"domain": ["Spin up", "Spin down"], "range": ["#0000ff", "#ff0000"]},
         "legend": {"title": null, "orient": "none", "legendX": 368, "legendY": 306, "symbolType": "M-1,0H3", "symbolSize": 462, "symbolStrokeWidth": 2.5, "labelFontSize": 23, "labelOffset": 27, "rowPadding": 7, "padding": 0}}}},
      {"transform": [{"filter": "datum.s === 'Spin down'"}], "mark": {"type": "line", "strokeWidth": 2, "clip": true},
       "encoding": {"color": {"field": "s", "type": "nominal"}}}
     ]
    },
    {"data": {"values": [{"k": 1}]}, "mark": {"type": "rule", "strokeDash": [4, 3], "color": "#1a1a1a", "strokeWidth": 1.2}, "encoding": {"x": {"datum": 0}, "y": {"datum": -150}, "y2": {"datum": 130}}},
    {"data": {"values": [{"k": 1}]}, "mark": {"type": "rule", "color": "#1a1a1a", "strokeWidth": 1.5}, "encoding": {"x": {"datum": 0}, "x2": {"datum": 0.7}, "y": {"datum": 74.3}}},
    {"data": {"values": [{"k": 1}]}, "mark": {"type": "point", "shape": "triangle-right", "filled": true, "color": "#1a1a1a", "size": 70, "opacity": 1}, "encoding": {"x": {"datum": 0.72}, "y": {"datum": 74.3}}},
    {"data": {"values": [{"k": 1}]}, "mark": {"type": "text", "text": "E", "fontSize": 25, "align": "left", "baseline": "middle", "color": "#231f20"}, "encoding": {"x": {"datum": 0.92}, "y": {"datum": 76.3}}},
    {"data": {"values": [{"k": 1}]}, "mark": {"type": "text", "text": "F", "fontSize": 18, "align": "left", "baseline": "middle", "color": "#231f20"}, "encoding": {"x": {"datum": 1.34}, "y": {"datum": 70}}},
    {"data": {"values": [{"k": 1}]}, "mark": {"type": "text", "text": "C doped Y2O3 (2.08 at%)", "fontSize": 20, "align": "center", "baseline": "middle"}, "encoding": {"x": {"datum": 3.52}, "y": {"datum": 116.5}}},
    {"data": {"values": [{"k": 1}]}, "mark": {"type": "text", "text": "(GGA)", "fontSize": 20, "align": "center", "baseline": "middle"}, "encoding": {"x": {"datum": 4.68}, "y": {"datum": 98.4}}},
    {"data": {"values": [{"k": 1}]}, "mark": {"type": "text", "text": "μ = 1.99", "fontSize": 24, "align": "center", "baseline": "middle"}, "encoding": {"x": {"datum": 2.82}, "y": {"datum": -128.5}}},
    {"data": {"values": [{"k": 1}]}, "mark": {"type": "text", "text": "(a)", "fontSize": 28, "align": "center", "baseline": "middle", "color": "#000000"}, "encoding": {"x": {"datum": 6.38}, "y": {"datum": -133.2}}}
   ]
  }
 ],
 "spacing": 0,
 "bounds": "flush"
},
{
 "width": 547, "height": 407,
 "view": {"stroke": "#1a1a1a", "strokeWidth": 1.5},
 "layer": [
  {
   "data": {"name": "hse"},
   "encoding": {
     "x": {"field": "E", "type": "quantitative", "scale": {"domain": [-5, 7], "nice": false, "zero": false},
       "axis": {"title": "E-Ef (eV)", "values": [-5,-4,-3,-2,-1,0,1,2,3,4,5,6,7], "labelExpr": "datum.value % 2 === 0 ? '' + datum.value : ''", "tickSize": 5, "labelFontSize": 23, "labelPadding": 11, "titleX": 297, "titleY": 76, "titleBaseline": "middle"}},
     "y": {"field": "D", "type": "quantitative", "scale": {"domain": [-80, 80], "nice": false, "zero": false},
       "axis": {"title": "Density of states per eV", "values": [-80,-70,-60,-50,-40,-30,-20,-10,0,10,20,30,40,50,60,70,80], "labelExpr": "datum.value % 20 === 0 ? '' + datum.value : ''", "tickSize": {"condition": {"test": "datum.value % 20 === 0", "value": 7}, "value": 4}, "labelFontSize": 25, "labelPadding": 2, "titleX": -75, "titleY": 210, "titleBaseline": "middle"}}
   },
   "layer": [
    {"transform": [{"filter": "datum.s === 'up spin'"}], "mark": {"type": "line", "strokeWidth": 3.5, "interpolate": "monotone", "clip": true},
     "encoding": {"color": {"field": "s", "type": "nominal", "scale": {"domain": ["up spin", "down spin"], "range": ["#0000ff", "#ff0000"]},
       "legend": {"title": null, "orient": "none", "legendX": 385, "legendY": 314, "symbolType": "M-1,0H3", "symbolSize": 420, "symbolStrokeWidth": 3.5, "labelFontSize": 18, "labelOffset": 23, "rowPadding": 1, "padding": 2, "strokeColor": "#1a1a1a"}}}},
    {"transform": [{"filter": "datum.s === 'down spin'"}], "mark": {"type": "line", "strokeWidth": 3.5, "interpolate": "monotone", "clip": true},
     "encoding": {"color": {"field": "s", "type": "nominal"}}}
   ]
  },
  {"data": {"values": [{"k": 1}]}, "mark": {"type": "rule", "strokeDash": [4, 3], "color": "#333333", "strokeWidth": 1.2}, "encoding": {"x": {"datum": 0}, "y": {"datum": -80}, "y2": {"datum": 80}}},
  {"data": {"values": [{"k": 1}]}, "mark": {"type": "rule", "color": "#1a1a1a", "strokeWidth": 1.5}, "encoding": {"x": {"datum": 0}, "x2": {"datum": 0.5}, "y": {"datum": 28.4}}},
  {"data": {"values": [{"k": 1}]}, "mark": {"type": "point", "shape": "triangle-right", "filled": true, "color": "#1a1a1a", "size": 50, "opacity": 1}, "encoding": {"x": {"datum": 0.52}, "y": {"datum": 28.4}}},
  {"data": {"values": [{"k": 1}]}, "mark": {"type": "text", "text": "E", "fontSize": 24, "align": "left", "baseline": "middle", "color": "#231f20"}, "encoding": {"x": {"datum": 0.72}, "y": {"datum": 26.4}}},
  {"data": {"values": [{"k": 1}]}, "mark": {"type": "text", "text": "F", "fontSize": 14, "align": "left", "baseline": "middle", "color": "#231f20"}, "encoding": {"x": {"datum": 1.11}, "y": {"datum": 21.3}}},
  {"data": {"values": [{"k": 1}]}, "mark": {"type": "text", "text": "C doped Y2O3 (2.08 at%)", "fontSize": 20, "align": "center", "baseline": "middle"}, "encoding": {"x": {"datum": 3.43}, "y": {"datum": 71.1}}},
  {"data": {"values": [{"k": 1}]}, "mark": {"type": "text", "text": "Hybrid functional", "fontSize": 21, "align": "left", "baseline": "middle"}, "encoding": {"x": {"datum": 2.56}, "y": {"datum": 59.3}}},
  {"data": {"values": [{"k": 1}]}, "mark": {"type": "text", "text": "(HSE06)", "fontSize": 21, "align": "left", "baseline": "middle"}, "encoding": {"x": {"datum": 2.56}, "y": {"datum": 47.6}}},
  {"data": {"values": [{"k": 1}]}, "mark": {"type": "text", "text": "μ = 2.0", "fontSize": 24, "align": "center", "baseline": "middle"}, "encoding": {"x": {"datum": 1.35}, "y": {"datum": -28.9}}},
  {"data": {"values": [{"k": 1}]}, "mark": {"type": "text", "text": "(b)", "fontSize": 28, "align": "center", "baseline": "middle", "color": "#000000"}, "encoding": {"x": {"datum": 6.21}, "y": {"datum": -71.2}}}
 ]
}
]
}
